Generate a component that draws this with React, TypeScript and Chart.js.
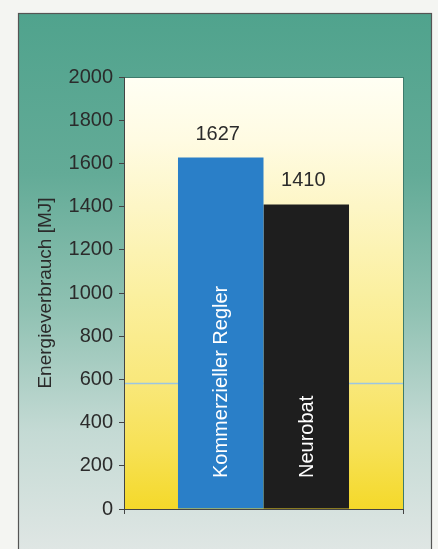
import { useEffect, useRef } from 'react';
import { Chart, registerables } from 'chart.js';

Chart.register(...registerables);

// ---- data ----
const categories = ['Kommerzieller Regler', 'Neurobat'];
const values = [1627, 1410];
const barColors = ['#2a7fc8', '#1e1e1e'];
const yMin = 0;
const yMax = 2000;
const yStep = 200;
const yTitle = 'Energieverbrauch [MJ]';
const printLineValue = 585; // faint light-blue line across the plot in the print

const FONT = '"Liberation Sans", Arial, Helvetica, sans-serif';

const bgPlugin = {
  id: 'bgPlugin',
  beforeDraw(chart: any) {
    const { ctx, chartArea: a, width, height } = chart;
    ctx.save();
    ctx.fillStyle = '#f4f5f2';
    ctx.fillRect(0, 0, width, height);
    // outer panel
    const g = ctx.createLinearGradient(0, 13, 0, height);
    g.addColorStop(0, '#50a38d');
    g.addColorStop(0.3, '#63ab97');
    g.addColorStop(0.55, '#8fc1b2');
    g.addColorStop(0.78, '#c4dad4');
    g.addColorStop(1, '#dfe6e4');
    ctx.fillStyle = g;
    ctx.fillRect(18, 13, 414, height);
    ctx.strokeStyle = '#555';
    ctx.lineWidth = 1.2;
    ctx.strokeRect(18.5, 13.5, 413, height + 5);
    // plot area
    const g2 = ctx.createLinearGradient(0, a.top, 0, a.bottom);
    g2.addColorStop(0, '#fffff4');
    g2.addColorStop(0.15, '#fffbe2');
    g2.addColorStop(0.3, '#fdf6c6');
    g2.addColorStop(0.5, '#fbf0a0');
    g2.addColorStop(0.7, '#f9e87c');
    g2.addColorStop(0.86, '#f7e155');
    g2.addColorStop(1, '#f4d92a');
    ctx.fillStyle = g2;
    ctx.fillRect(a.left, a.top, a.right - a.left, a.bottom - a.top);
    // faint print line
    const ly = Math.round(chart.scales.y.getPixelForValue(printLineValue)) + 0.5;
    ctx.strokeStyle = '#9cc6e2';
    ctx.lineWidth = 1.5;
    ctx.beginPath();
    ctx.moveTo(a.left, ly);
    ctx.lineTo(a.right, ly);
    ctx.stroke();
    ctx.strokeStyle = '#3e7b6c';
    ctx.lineWidth = 1;
    ctx.strokeRect(a.left + 0.5, a.top + 0.5, a.right - a.left, a.bottom - a.top);
    ctx.restore();
  },
};

const labelPlugin = {
  id: 'labelPlugin',
  afterDatasetsDraw(chart: any) {
    const { ctx, chartArea: a } = chart;
    chart.data.datasets.forEach((ds: any, i: number) => {
      const bar: any = chart.getDatasetMeta(i).data[0];
      if (!bar) return;
      ctx.save();
      ctx.font = `20px ${FONT}`;
      ctx.fillStyle = '#2b2b2b';
      ctx.textAlign = 'center';
      ctx.textBaseline = 'alphabetic';
      ctx.fillText(String(ds.data[0]), bar.x - 3, bar.y - 18);
      ctx.translate(bar.x + 1, a.bottom - 31);
      ctx.rotate(-Math.PI / 2);
      ctx.textAlign = 'left';
      ctx.textBaseline = 'middle';
      ctx.fillStyle = '#ffffff';
      ctx.fillText(ds.label, 0, 0);
      ctx.restore();
    });
  },
};

export default function App() {
  const ref = useRef<HTMLCanvasElement>(null);

  useEffect(() => {
    document.body.style.margin = '0';
    const canvas = ref.current!;
    const chart = new Chart(canvas, {
      type: 'bar',
      data: {
        labels: [''],
        datasets: categories.map((c, i) => ({
          label: c,
          data: [values[i]],
          backgroundColor: barColors[i],
          borderWidth: 0,
          categoryPercentage: 0.613,
          barPercentage: 1,
        })),
      },
      options: {
        responsive: false,
        animation: false,
        devicePixelRatio: 1,
        layout: { padding: { left: 0, right: 35, top: 77, bottom: 35 } },
        plugins: {
          legend: { display: false },
          tooltip: { enabled: false },
        },
        scales: {
          x: {
            type: 'category',
            offset: true,
            grid: {
              offset: true,
              drawOnChartArea: false,
              drawTicks: true,
              tickLength: 5,
              color: '#444',
            },
            border: { display: true, color: '#444', width: 1 },
            ticks: { display: false },
            afterFit: (s: any) => {
              s.height = 5;
            },
          },
          y: {
            min: yMin,
            max: yMax,
            ticks: {
              stepSize: yStep,
              color: '#2b2b2b',
              padding: 6,
              font: { family: FONT, size: 20 },
              callback: (v: any) => String(v),
            },
            grid: {
              drawOnChartArea: false,
              drawTicks: true,
              tickLength: 5,
              color: '#444',
            },
            border: { display: true, color: '#444', width: 1 },
            title: {
              display: true,
              text: yTitle,
              color: '#2b2b2b',
              font: { family: FONT, size: 19 },
              padding: { top: 34, bottom: 0 },
            },
            afterFit: (s: any) => {
              s.width = 124;
            },
          },
        },
      },
      plugins: [bgPlugin, labelPlugin],
    });
    return () => chart.destroy();
  }, []);

  return (
    <div style={{ position: 'absolute', left: 0, top: 0, width: 438, height: 549 }}>
      <canvas ref={ref} width={438} height={549} style={{ width: 438, height: 549, display: 'block' }} />
    </div>
  );
}
